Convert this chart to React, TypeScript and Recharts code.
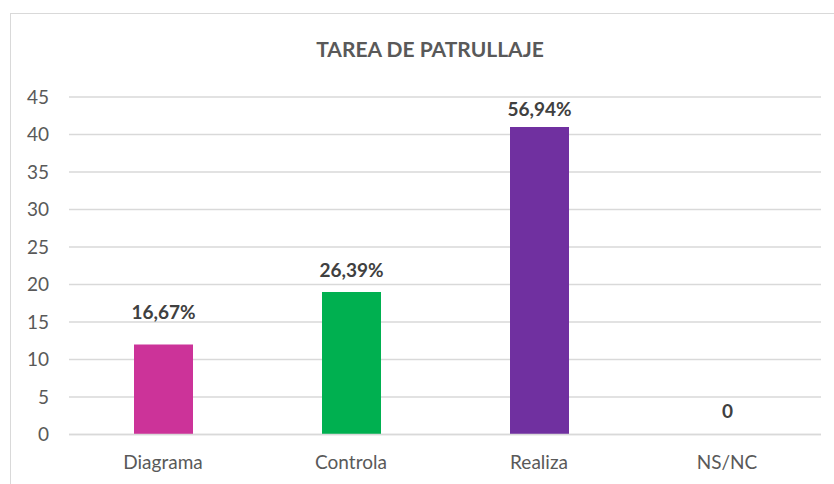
import React from "react";
import { BarChart, Bar, XAxis, YAxis, CartesianGrid, Cell, LabelList } from "recharts";

const categories = ["Diagrama", "Controla", "Realiza", "NS/NC"];
const counts = [12, 19, 41, 0];
const percentLabels = ["16,67%", "26,39%", "56,94%", "0"];
const barColors = ["#CC3399", "#00B050", "#7030A0", "transparent"];
const yTicks = [0, 5, 10, 15, 20, 25, 30, 35, 40, 45];
const chartTitle = "TAREA DE PATRULLAJE";

const data = categories.map((name, i) => ({ name, value: counts[i], label: percentLabels[i] }));

const labelGaps = [26, 15, 11, 16];
const FONT = "Lato, 'Open Sans', sans-serif";

const renderLabel = (props: any) => {
  const { x, y, width, height, index } = props;
  const top = Math.min(y, y + height);
  return (
    <text
      x={x + width / 2}
      y={top - labelGaps[index]}
      textAnchor="middle"
      fill="#404040"
      fontFamily={FONT}
      fontWeight={700}
      fontSize={19}
    >
      {percentLabels[index]}
    </text>
  );
};

export default function App() {
  return (
    <div style={{ position: "absolute", left: 0, top: 0, width: 834, height: 484, background: "#fff", overflow: "hidden" }}>
      <div
        style={{
          position: "absolute",
          left: 10,
          top: 13,
          width: 900,
          height: 600,
          border: "1px solid #d9d9d9",
          boxSizing: "border-box",
        }}
      />
      <BarChart
        width={834}
        height={484}
        data={data}
        margin={{ top: 97, right: 13, left: 0, bottom: 0 }}
        style={{ position: "absolute", left: 0, top: 0 }}
      >
        <text x={430} y={57} textAnchor="middle" fill="#595959" fontFamily={FONT} fontWeight={700} fontSize={21}>
          {chartTitle}
        </text>
        <CartesianGrid vertical={false} stroke="#d9d9d9" strokeWidth={1.3} />
        <XAxis
          dataKey="name"
          height={49.5}
          tickLine={false}
          tickSize={0}
          tickMargin={21}
          axisLine={{ stroke: "#d9d9d9", strokeWidth: 1.3 }}
          tick={{ fill: "#595959", fontFamily: FONT, fontSize: 19 }}
        />
        <YAxis
          width={69}
          domain={[0, 45]}
          ticks={yTicks}
          interval={0}
          tickLine={false}
          axisLine={false}
          tickSize={0}
          tickMargin={20}
          tick={{ fill: "#595959", fontFamily: FONT, fontSize: 19 }}
        />
        <Bar
          dataKey="value"
          barSize={59}
          isAnimationActive={false}
          minPointSize={(v: number) => (v === 0 ? 0.01 : 0)}
        >
          {data.map((d, i) => (
            <Cell key={d.name} fill={barColors[i]} />
          ))}
          <LabelList dataKey="label" content={renderLabel} />
        </Bar>
      </BarChart>
    </div>
  );
}
